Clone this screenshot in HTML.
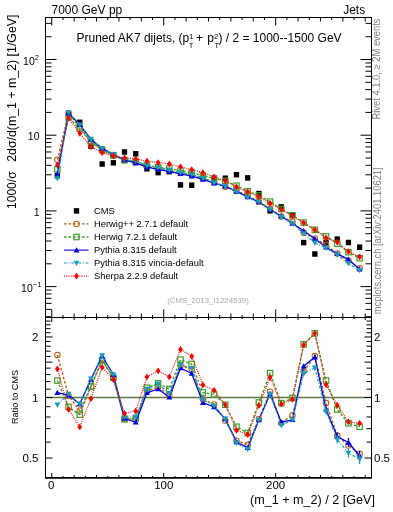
<!DOCTYPE html><html><head><meta charset="utf-8"><style>html,body{margin:0;padding:0;background:#fff;width:393px;height:512px;overflow:hidden}svg{display:block;font-family:"Liberation Sans",sans-serif;will-change:transform}</style></head><body><svg width="393" height="512" viewBox="0 0 393 512">
<rect width="393" height="512" fill="#fff"/>
<defs><clipPath id="cm"><rect x="45.5" y="17.5" width="326.0" height="300.0"/></clipPath><clipPath id="cr"><rect x="45.5" y="317.5" width="326.0" height="160.0"/></clipPath></defs>
<g clip-path="url(#cm)">
<rect x="54.72" y="172.95" width="5.3" height="5.5" fill="#000"/>
<rect x="65.91" y="111.05" width="5.3" height="5.5" fill="#000"/>
<rect x="77.11" y="119.55" width="5.3" height="5.5" fill="#000"/>
<rect x="88.3" y="143.45" width="5.3" height="5.5" fill="#000"/>
<rect x="99.5" y="161.25" width="5.3" height="5.5" fill="#000"/>
<rect x="110.69" y="160.05" width="5.3" height="5.5" fill="#000"/>
<rect x="121.89" y="149.25" width="5.3" height="5.5" fill="#000"/>
<rect x="133.08" y="151.05" width="5.3" height="5.5" fill="#000"/>
<rect x="144.28" y="166.05" width="5.3" height="5.5" fill="#000"/>
<rect x="155.47" y="169.85" width="5.3" height="5.5" fill="#000"/>
<rect x="166.67" y="168.95" width="5.3" height="5.5" fill="#000"/>
<rect x="177.86" y="182.15" width="5.3" height="5.5" fill="#000"/>
<rect x="189.06" y="182.45" width="5.3" height="5.5" fill="#000"/>
<rect x="200.25" y="174.75" width="5.3" height="5.5" fill="#000"/>
<rect x="211.45" y="176.85" width="5.3" height="5.5" fill="#000"/>
<rect x="222.64" y="175.45" width="5.3" height="5.5" fill="#000"/>
<rect x="233.84" y="171.95" width="5.3" height="5.5" fill="#000"/>
<rect x="245.03" y="175.15" width="5.3" height="5.5" fill="#000"/>
<rect x="256.23" y="190.85" width="5.3" height="5.5" fill="#000"/>
<rect x="267.42" y="208.05" width="5.3" height="5.5" fill="#000"/>
<rect x="278.62" y="204.15" width="5.3" height="5.5" fill="#000"/>
<rect x="289.81" y="212.35" width="5.3" height="5.5" fill="#000"/>
<rect x="301.01" y="239.85" width="5.3" height="5.5" fill="#000"/>
<rect x="312.2" y="251.25" width="5.3" height="5.5" fill="#000"/>
<rect x="323.4" y="240.05" width="5.3" height="5.5" fill="#000"/>
<rect x="334.59" y="236.35" width="5.3" height="5.5" fill="#000"/>
<rect x="345.79" y="239.75" width="5.3" height="5.5" fill="#000"/>
<rect x="356.98" y="244.45" width="5.3" height="5.5" fill="#000"/>
<polyline points="57.37,159.7 68.56,113.16 79.76,127.2 90.95,142.02 102.15,149.8 113.34,155.38 124.54,160.17 135.73,161.9 146.93,166.31 158.12,168.68 169.32,170.87 180.51,172.85 191.71,174.47 202.9,178.14 214.1,182.24 225.29,186.86 236.49,191 247.68,195.67 258.88,201.66 270.07,208.62 281.27,216.5 292.46,221.76 303.66,232.7 314.85,238.41 326.05,244.87 337.24,253.45 348.44,260.54 359.63,268.36" fill="none" stroke="#b8600f" stroke-width="1.4" stroke-dasharray="2.6,1.9" stroke-linejoin="round"/>
<circle cx="57.37" cy="159.7" r="2.75" fill="none" stroke="#b8600f" stroke-width="1.05"/>
<circle cx="68.56" cy="113.16" r="2.75" fill="none" stroke="#b8600f" stroke-width="1.05"/>
<circle cx="79.76" cy="127.2" r="2.75" fill="none" stroke="#b8600f" stroke-width="1.05"/>
<circle cx="90.95" cy="142.02" r="2.75" fill="none" stroke="#b8600f" stroke-width="1.05"/>
<circle cx="102.15" cy="149.8" r="2.75" fill="none" stroke="#b8600f" stroke-width="1.05"/>
<circle cx="113.34" cy="155.38" r="2.75" fill="none" stroke="#b8600f" stroke-width="1.05"/>
<circle cx="124.54" cy="160.17" r="2.75" fill="none" stroke="#b8600f" stroke-width="1.05"/>
<circle cx="135.73" cy="161.9" r="2.75" fill="none" stroke="#b8600f" stroke-width="1.05"/>
<circle cx="146.93" cy="166.31" r="2.75" fill="none" stroke="#b8600f" stroke-width="1.05"/>
<circle cx="158.12" cy="168.68" r="2.75" fill="none" stroke="#b8600f" stroke-width="1.05"/>
<circle cx="169.32" cy="170.87" r="2.75" fill="none" stroke="#b8600f" stroke-width="1.05"/>
<circle cx="180.51" cy="172.85" r="2.75" fill="none" stroke="#b8600f" stroke-width="1.05"/>
<circle cx="191.71" cy="174.47" r="2.75" fill="none" stroke="#b8600f" stroke-width="1.05"/>
<circle cx="202.9" cy="178.14" r="2.75" fill="none" stroke="#b8600f" stroke-width="1.05"/>
<circle cx="214.1" cy="182.24" r="2.75" fill="none" stroke="#b8600f" stroke-width="1.05"/>
<circle cx="225.29" cy="186.86" r="2.75" fill="none" stroke="#b8600f" stroke-width="1.05"/>
<circle cx="236.49" cy="191" r="2.75" fill="none" stroke="#b8600f" stroke-width="1.05"/>
<circle cx="247.68" cy="195.67" r="2.75" fill="none" stroke="#b8600f" stroke-width="1.05"/>
<circle cx="258.88" cy="201.66" r="2.75" fill="none" stroke="#b8600f" stroke-width="1.05"/>
<circle cx="270.07" cy="208.62" r="2.75" fill="none" stroke="#b8600f" stroke-width="1.05"/>
<circle cx="281.27" cy="216.5" r="2.75" fill="none" stroke="#b8600f" stroke-width="1.05"/>
<circle cx="292.46" cy="221.76" r="2.75" fill="none" stroke="#b8600f" stroke-width="1.05"/>
<circle cx="303.66" cy="232.7" r="2.75" fill="none" stroke="#b8600f" stroke-width="1.05"/>
<circle cx="314.85" cy="238.41" r="2.75" fill="none" stroke="#b8600f" stroke-width="1.05"/>
<circle cx="326.05" cy="244.87" r="2.75" fill="none" stroke="#b8600f" stroke-width="1.05"/>
<circle cx="337.24" cy="253.45" r="2.75" fill="none" stroke="#b8600f" stroke-width="1.05"/>
<circle cx="348.44" cy="260.54" r="2.75" fill="none" stroke="#b8600f" stroke-width="1.05"/>
<circle cx="359.63" cy="268.36" r="2.75" fill="none" stroke="#b8600f" stroke-width="1.05"/>
<polyline points="57.37,169.34 68.56,117.38 79.76,128.74 90.95,142.02 102.15,150.11 113.34,155.38 124.54,160.17 135.73,161.67 146.93,165.11 158.12,167.25 169.32,168.5 180.51,170.67 191.71,172.59 202.9,175.62 214.1,178.43 225.29,180.95 236.49,185.7 247.68,191.27 258.88,195.48 270.07,201.61 281.27,209.01 292.46,215.29 303.66,222.61 314.85,229.83 326.05,236.4 337.24,243.66 348.44,252.22 359.63,258.23" fill="none" stroke="#3fa02a" stroke-width="1.4" stroke-dasharray="2.6,1.9" stroke-linejoin="round"/>
<rect x="54.67" y="166.64" width="5.4" height="5.4" fill="none" stroke="#3fa02a" stroke-width="1.2"/>
<rect x="65.86" y="114.68" width="5.4" height="5.4" fill="none" stroke="#3fa02a" stroke-width="1.2"/>
<rect x="77.06" y="126.04" width="5.4" height="5.4" fill="none" stroke="#3fa02a" stroke-width="1.2"/>
<rect x="88.25" y="139.32" width="5.4" height="5.4" fill="none" stroke="#3fa02a" stroke-width="1.2"/>
<rect x="99.45" y="147.41" width="5.4" height="5.4" fill="none" stroke="#3fa02a" stroke-width="1.2"/>
<rect x="110.64" y="152.68" width="5.4" height="5.4" fill="none" stroke="#3fa02a" stroke-width="1.2"/>
<rect x="121.84" y="157.47" width="5.4" height="5.4" fill="none" stroke="#3fa02a" stroke-width="1.2"/>
<rect x="133.03" y="158.97" width="5.4" height="5.4" fill="none" stroke="#3fa02a" stroke-width="1.2"/>
<rect x="144.23" y="162.41" width="5.4" height="5.4" fill="none" stroke="#3fa02a" stroke-width="1.2"/>
<rect x="155.42" y="164.55" width="5.4" height="5.4" fill="none" stroke="#3fa02a" stroke-width="1.2"/>
<rect x="166.62" y="165.8" width="5.4" height="5.4" fill="none" stroke="#3fa02a" stroke-width="1.2"/>
<rect x="177.81" y="167.97" width="5.4" height="5.4" fill="none" stroke="#3fa02a" stroke-width="1.2"/>
<rect x="189.01" y="169.89" width="5.4" height="5.4" fill="none" stroke="#3fa02a" stroke-width="1.2"/>
<rect x="200.2" y="172.92" width="5.4" height="5.4" fill="none" stroke="#3fa02a" stroke-width="1.2"/>
<rect x="211.4" y="175.73" width="5.4" height="5.4" fill="none" stroke="#3fa02a" stroke-width="1.2"/>
<rect x="222.59" y="178.25" width="5.4" height="5.4" fill="none" stroke="#3fa02a" stroke-width="1.2"/>
<rect x="233.79" y="183" width="5.4" height="5.4" fill="none" stroke="#3fa02a" stroke-width="1.2"/>
<rect x="244.98" y="188.57" width="5.4" height="5.4" fill="none" stroke="#3fa02a" stroke-width="1.2"/>
<rect x="256.18" y="192.78" width="5.4" height="5.4" fill="none" stroke="#3fa02a" stroke-width="1.2"/>
<rect x="267.37" y="198.91" width="5.4" height="5.4" fill="none" stroke="#3fa02a" stroke-width="1.2"/>
<rect x="278.57" y="206.31" width="5.4" height="5.4" fill="none" stroke="#3fa02a" stroke-width="1.2"/>
<rect x="289.76" y="212.59" width="5.4" height="5.4" fill="none" stroke="#3fa02a" stroke-width="1.2"/>
<rect x="300.96" y="219.91" width="5.4" height="5.4" fill="none" stroke="#3fa02a" stroke-width="1.2"/>
<rect x="312.15" y="227.13" width="5.4" height="5.4" fill="none" stroke="#3fa02a" stroke-width="1.2"/>
<rect x="323.35" y="233.7" width="5.4" height="5.4" fill="none" stroke="#3fa02a" stroke-width="1.2"/>
<rect x="334.54" y="240.96" width="5.4" height="5.4" fill="none" stroke="#3fa02a" stroke-width="1.2"/>
<rect x="345.74" y="249.52" width="5.4" height="5.4" fill="none" stroke="#3fa02a" stroke-width="1.2"/>
<rect x="356.93" y="255.53" width="5.4" height="5.4" fill="none" stroke="#3fa02a" stroke-width="1.2"/>
<polyline points="57.37,173.89 68.56,112.93 79.76,124.75 90.95,139.42 102.15,148.37 113.34,154.21 124.54,159.91 135.73,163.14 146.93,167.03 158.12,169.4 169.32,171.62 180.51,173.79 191.71,176.16 202.9,179.42 214.1,183.18 225.29,186.26 236.49,191.46 247.68,196.84 258.88,202.07 270.07,209.52 281.27,216.2 292.46,223.5 303.66,230.81 314.85,238.79 326.05,247.32 337.24,253.82 348.44,259.44 359.63,269.23" fill="none" stroke="#0000e6" stroke-width="1.3" stroke-linejoin="round"/>
<path d="M54.37 176.19L60.37 176.19L57.37 170.99Z" fill="#0000e6"/>
<path d="M65.56 115.23L71.56 115.23L68.56 110.03Z" fill="#0000e6"/>
<path d="M76.76 127.05L82.76 127.05L79.76 121.85Z" fill="#0000e6"/>
<path d="M87.95 141.72L93.95 141.72L90.95 136.52Z" fill="#0000e6"/>
<path d="M99.15 150.67L105.15 150.67L102.15 145.47Z" fill="#0000e6"/>
<path d="M110.34 156.51L116.34 156.51L113.34 151.31Z" fill="#0000e6"/>
<path d="M121.54 162.21L127.54 162.21L124.54 157.01Z" fill="#0000e6"/>
<path d="M132.73 165.44L138.73 165.44L135.73 160.24Z" fill="#0000e6"/>
<path d="M143.93 169.33L149.93 169.33L146.93 164.13Z" fill="#0000e6"/>
<path d="M155.12 171.7L161.12 171.7L158.12 166.5Z" fill="#0000e6"/>
<path d="M166.32 173.92L172.32 173.92L169.32 168.72Z" fill="#0000e6"/>
<path d="M177.51 176.09L183.51 176.09L180.51 170.89Z" fill="#0000e6"/>
<path d="M188.71 178.46L194.71 178.46L191.71 173.26Z" fill="#0000e6"/>
<path d="M199.9 181.72L205.9 181.72L202.9 176.52Z" fill="#0000e6"/>
<path d="M211.1 185.48L217.1 185.48L214.1 180.28Z" fill="#0000e6"/>
<path d="M222.29 188.56L228.29 188.56L225.29 183.36Z" fill="#0000e6"/>
<path d="M233.49 193.76L239.49 193.76L236.49 188.56Z" fill="#0000e6"/>
<path d="M244.68 199.14L250.68 199.14L247.68 193.94Z" fill="#0000e6"/>
<path d="M255.88 204.37L261.88 204.37L258.88 199.17Z" fill="#0000e6"/>
<path d="M267.07 211.82L273.07 211.82L270.07 206.62Z" fill="#0000e6"/>
<path d="M278.27 218.5L284.27 218.5L281.27 213.3Z" fill="#0000e6"/>
<path d="M289.46 225.8L295.46 225.8L292.46 220.6Z" fill="#0000e6"/>
<path d="M300.66 233.11L306.66 233.11L303.66 227.91Z" fill="#0000e6"/>
<path d="M311.85 241.09L317.85 241.09L314.85 235.89Z" fill="#0000e6"/>
<path d="M323.05 249.62L329.05 249.62L326.05 244.42Z" fill="#0000e6"/>
<path d="M334.24 256.12L340.24 256.12L337.24 250.92Z" fill="#0000e6"/>
<path d="M345.44 261.74L351.44 261.74L348.44 256.54Z" fill="#0000e6"/>
<path d="M356.63 271.53L362.63 271.53L359.63 266.33Z" fill="#0000e6"/>
<polyline points="57.37,178.45 68.56,112.48 79.76,124.75 90.95,139.16 102.15,148.22 113.34,154.21 124.54,159.42 135.73,161.11 146.93,165.6 158.12,167.48 169.32,170.16 180.51,172.59 191.71,174.24 202.9,178.25 214.1,182.73 225.29,186.26 236.49,191.87 247.68,197.44 258.88,202.07 270.07,209.52 281.27,217.37 292.46,223.5 303.66,233.56 314.85,242.85 326.05,248.07 337.24,254.92 348.44,263.44 359.63,270.36" fill="none" stroke="#1a9cc0" stroke-width="1.2" stroke-dasharray="3,1.6,1,1.6" stroke-linejoin="round"/>
<path d="M54.37 176.15L60.37 176.15L57.37 181.35Z" fill="#1a9cc0"/>
<path d="M65.56 110.18L71.56 110.18L68.56 115.38Z" fill="#1a9cc0"/>
<path d="M76.76 122.45L82.76 122.45L79.76 127.65Z" fill="#1a9cc0"/>
<path d="M87.95 136.86L93.95 136.86L90.95 142.06Z" fill="#1a9cc0"/>
<path d="M99.15 145.92L105.15 145.92L102.15 151.12Z" fill="#1a9cc0"/>
<path d="M110.34 151.91L116.34 151.91L113.34 157.11Z" fill="#1a9cc0"/>
<path d="M121.54 157.12L127.54 157.12L124.54 162.32Z" fill="#1a9cc0"/>
<path d="M132.73 158.81L138.73 158.81L135.73 164.01Z" fill="#1a9cc0"/>
<path d="M143.93 163.3L149.93 163.3L146.93 168.5Z" fill="#1a9cc0"/>
<path d="M155.12 165.18L161.12 165.18L158.12 170.38Z" fill="#1a9cc0"/>
<path d="M166.32 167.86L172.32 167.86L169.32 173.06Z" fill="#1a9cc0"/>
<path d="M177.51 170.29L183.51 170.29L180.51 175.49Z" fill="#1a9cc0"/>
<path d="M188.71 171.94L194.71 171.94L191.71 177.14Z" fill="#1a9cc0"/>
<path d="M199.9 175.95L205.9 175.95L202.9 181.15Z" fill="#1a9cc0"/>
<path d="M211.1 180.43L217.1 180.43L214.1 185.63Z" fill="#1a9cc0"/>
<path d="M222.29 183.96L228.29 183.96L225.29 189.16Z" fill="#1a9cc0"/>
<path d="M233.49 189.57L239.49 189.57L236.49 194.77Z" fill="#1a9cc0"/>
<path d="M244.68 195.14L250.68 195.14L247.68 200.34Z" fill="#1a9cc0"/>
<path d="M255.88 199.77L261.88 199.77L258.88 204.97Z" fill="#1a9cc0"/>
<path d="M267.07 207.22L273.07 207.22L270.07 212.42Z" fill="#1a9cc0"/>
<path d="M278.27 215.07L284.27 215.07L281.27 220.27Z" fill="#1a9cc0"/>
<path d="M289.46 221.2L295.46 221.2L292.46 226.4Z" fill="#1a9cc0"/>
<path d="M300.66 231.26L306.66 231.26L303.66 236.46Z" fill="#1a9cc0"/>
<path d="M311.85 240.55L317.85 240.55L314.85 245.75Z" fill="#1a9cc0"/>
<path d="M323.05 245.77L329.05 245.77L326.05 250.97Z" fill="#1a9cc0"/>
<path d="M334.24 252.62L340.24 252.62L337.24 257.82Z" fill="#1a9cc0"/>
<path d="M345.44 261.14L351.44 261.14L348.44 266.34Z" fill="#1a9cc0"/>
<path d="M356.63 268.06L362.63 268.06L359.63 273.26Z" fill="#1a9cc0"/>
<polyline points="57.37,164.93 68.56,118.24 79.76,133.37 90.95,146.65 102.15,152.63 113.34,156.02 124.54,158.02 135.73,158.88 146.93,161.04 158.12,162.55 169.32,163.94 180.51,166.83 191.71,169.69 202.9,172.76 214.1,176.89 225.29,180.95 236.49,187.05 247.68,191.83 258.88,196.65 270.07,203.31 281.27,209.42 292.46,215.78 303.66,222.83 314.85,229.83 326.05,237.98 337.24,242 348.44,251.69 359.63,256.92" fill="none" stroke="#ff0000" stroke-width="1.2" stroke-dasharray="1,1.2" stroke-linejoin="round"/>
<path d="M57.37 161.53L59.77 164.93L57.37 168.33L54.97 164.93Z" fill="#ff0000"/>
<path d="M68.56 114.84L70.96 118.24L68.56 121.64L66.16 118.24Z" fill="#ff0000"/>
<path d="M79.76 129.97L82.16 133.37L79.76 136.77L77.36 133.37Z" fill="#ff0000"/>
<path d="M90.95 143.25L93.35 146.65L90.95 150.05L88.55 146.65Z" fill="#ff0000"/>
<path d="M102.15 149.23L104.55 152.63L102.15 156.03L99.75 152.63Z" fill="#ff0000"/>
<path d="M113.34 152.62L115.74 156.02L113.34 159.42L110.94 156.02Z" fill="#ff0000"/>
<path d="M124.54 154.62L126.94 158.02L124.54 161.42L122.14 158.02Z" fill="#ff0000"/>
<path d="M135.73 155.48L138.13 158.88L135.73 162.28L133.33 158.88Z" fill="#ff0000"/>
<path d="M146.93 157.64L149.33 161.04L146.93 164.44L144.53 161.04Z" fill="#ff0000"/>
<path d="M158.12 159.15L160.52 162.55L158.12 165.95L155.72 162.55Z" fill="#ff0000"/>
<path d="M169.32 160.54L171.72 163.94L169.32 167.34L166.92 163.94Z" fill="#ff0000"/>
<path d="M180.51 163.43L182.91 166.83L180.51 170.23L178.11 166.83Z" fill="#ff0000"/>
<path d="M191.71 166.29L194.11 169.69L191.71 173.09L189.31 169.69Z" fill="#ff0000"/>
<path d="M202.9 169.36L205.3 172.76L202.9 176.16L200.5 172.76Z" fill="#ff0000"/>
<path d="M214.1 173.49L216.5 176.89L214.1 180.29L211.7 176.89Z" fill="#ff0000"/>
<path d="M225.29 177.55L227.69 180.95L225.29 184.35L222.89 180.95Z" fill="#ff0000"/>
<path d="M236.49 183.65L238.89 187.05L236.49 190.45L234.09 187.05Z" fill="#ff0000"/>
<path d="M247.68 188.43L250.08 191.83L247.68 195.23L245.28 191.83Z" fill="#ff0000"/>
<path d="M258.88 193.25L261.28 196.65L258.88 200.05L256.48 196.65Z" fill="#ff0000"/>
<path d="M270.07 199.91L272.47 203.31L270.07 206.71L267.67 203.31Z" fill="#ff0000"/>
<path d="M281.27 206.02L283.67 209.42L281.27 212.82L278.87 209.42Z" fill="#ff0000"/>
<path d="M292.46 212.38L294.86 215.78L292.46 219.18L290.06 215.78Z" fill="#ff0000"/>
<path d="M303.66 219.43L306.06 222.83L303.66 226.23L301.26 222.83Z" fill="#ff0000"/>
<path d="M314.85 226.43L317.25 229.83L314.85 233.23L312.45 229.83Z" fill="#ff0000"/>
<path d="M326.05 234.58L328.45 237.98L326.05 241.38L323.65 237.98Z" fill="#ff0000"/>
<path d="M337.24 238.6L339.64 242L337.24 245.4L334.84 242Z" fill="#ff0000"/>
<path d="M348.44 248.29L350.84 251.69L348.44 255.09L346.04 251.69Z" fill="#ff0000"/>
<path d="M359.63 253.52L362.03 256.92L359.63 260.32L357.23 256.92Z" fill="#ff0000"/>
</g>
<g clip-path="url(#cr)">
<line x1="45.5" y1="397.5" x2="371.5" y2="397.5" stroke="#5a7846" stroke-width="1.3"/>
<polyline points="57.37,355 68.56,395.8 79.76,410.5 90.95,386.4 102.15,359.8 113.34,377.8 124.54,419.2 135.73,419 146.93,390.9 158.12,387.1 169.32,395.3 180.51,365.5 191.71,369 202.9,399.2 214.1,404.5 225.29,420.5 236.49,440.8 247.68,444.7 258.88,418.9 270.07,391.7 281.27,423 292.46,415.2 303.66,371.2 314.85,356.1 326.05,403 337.24,435.6 348.44,445.4 359.63,453.7" fill="none" stroke="#b8600f" stroke-width="1.4" stroke-dasharray="2.6,1.9" stroke-linejoin="round"/>
<circle cx="57.37" cy="355" r="2.75" fill="none" stroke="#b8600f" stroke-width="1.05"/>
<circle cx="68.56" cy="395.8" r="2.75" fill="none" stroke="#b8600f" stroke-width="1.05"/>
<circle cx="79.76" cy="410.5" r="2.75" fill="none" stroke="#b8600f" stroke-width="1.05"/>
<circle cx="90.95" cy="386.4" r="2.75" fill="none" stroke="#b8600f" stroke-width="1.05"/>
<circle cx="102.15" cy="359.8" r="2.75" fill="none" stroke="#b8600f" stroke-width="1.05"/>
<circle cx="113.34" cy="377.8" r="2.75" fill="none" stroke="#b8600f" stroke-width="1.05"/>
<circle cx="124.54" cy="419.2" r="2.75" fill="none" stroke="#b8600f" stroke-width="1.05"/>
<circle cx="135.73" cy="419" r="2.75" fill="none" stroke="#b8600f" stroke-width="1.05"/>
<circle cx="146.93" cy="390.9" r="2.75" fill="none" stroke="#b8600f" stroke-width="1.05"/>
<circle cx="158.12" cy="387.1" r="2.75" fill="none" stroke="#b8600f" stroke-width="1.05"/>
<circle cx="169.32" cy="395.3" r="2.75" fill="none" stroke="#b8600f" stroke-width="1.05"/>
<circle cx="180.51" cy="365.5" r="2.75" fill="none" stroke="#b8600f" stroke-width="1.05"/>
<circle cx="191.71" cy="369" r="2.75" fill="none" stroke="#b8600f" stroke-width="1.05"/>
<circle cx="202.9" cy="399.2" r="2.75" fill="none" stroke="#b8600f" stroke-width="1.05"/>
<circle cx="214.1" cy="404.5" r="2.75" fill="none" stroke="#b8600f" stroke-width="1.05"/>
<circle cx="225.29" cy="420.5" r="2.75" fill="none" stroke="#b8600f" stroke-width="1.05"/>
<circle cx="236.49" cy="440.8" r="2.75" fill="none" stroke="#b8600f" stroke-width="1.05"/>
<circle cx="247.68" cy="444.7" r="2.75" fill="none" stroke="#b8600f" stroke-width="1.05"/>
<circle cx="258.88" cy="418.9" r="2.75" fill="none" stroke="#b8600f" stroke-width="1.05"/>
<circle cx="270.07" cy="391.7" r="2.75" fill="none" stroke="#b8600f" stroke-width="1.05"/>
<circle cx="281.27" cy="423" r="2.75" fill="none" stroke="#b8600f" stroke-width="1.05"/>
<circle cx="292.46" cy="415.2" r="2.75" fill="none" stroke="#b8600f" stroke-width="1.05"/>
<circle cx="303.66" cy="371.2" r="2.75" fill="none" stroke="#b8600f" stroke-width="1.05"/>
<circle cx="314.85" cy="356.1" r="2.75" fill="none" stroke="#b8600f" stroke-width="1.05"/>
<circle cx="326.05" cy="403" r="2.75" fill="none" stroke="#b8600f" stroke-width="1.05"/>
<circle cx="337.24" cy="435.6" r="2.75" fill="none" stroke="#b8600f" stroke-width="1.05"/>
<circle cx="348.44" cy="445.4" r="2.75" fill="none" stroke="#b8600f" stroke-width="1.05"/>
<circle cx="359.63" cy="453.7" r="2.75" fill="none" stroke="#b8600f" stroke-width="1.05"/>
<polyline points="57.37,380.6 68.56,407 79.76,414.6 90.95,386.4 102.15,360.6 113.34,377.8 124.54,419.2 135.73,418.4 146.93,387.7 158.12,383.3 169.32,389 180.51,359.7 191.71,364 202.9,392.5 214.1,394.4 225.29,404.8 236.49,426.7 247.68,433 258.88,402.5 270.07,373.1 281.27,403.1 292.46,398 303.66,344.4 314.85,333.3 326.05,380.5 337.24,409.6 348.44,423.3 359.63,426.8" fill="none" stroke="#3fa02a" stroke-width="1.4" stroke-dasharray="2.6,1.9" stroke-linejoin="round"/>
<rect x="54.67" y="377.9" width="5.4" height="5.4" fill="none" stroke="#3fa02a" stroke-width="1.2"/>
<rect x="65.86" y="404.3" width="5.4" height="5.4" fill="none" stroke="#3fa02a" stroke-width="1.2"/>
<rect x="77.06" y="411.9" width="5.4" height="5.4" fill="none" stroke="#3fa02a" stroke-width="1.2"/>
<rect x="88.25" y="383.7" width="5.4" height="5.4" fill="none" stroke="#3fa02a" stroke-width="1.2"/>
<rect x="99.45" y="357.9" width="5.4" height="5.4" fill="none" stroke="#3fa02a" stroke-width="1.2"/>
<rect x="110.64" y="375.1" width="5.4" height="5.4" fill="none" stroke="#3fa02a" stroke-width="1.2"/>
<rect x="121.84" y="416.5" width="5.4" height="5.4" fill="none" stroke="#3fa02a" stroke-width="1.2"/>
<rect x="133.03" y="415.7" width="5.4" height="5.4" fill="none" stroke="#3fa02a" stroke-width="1.2"/>
<rect x="144.23" y="385" width="5.4" height="5.4" fill="none" stroke="#3fa02a" stroke-width="1.2"/>
<rect x="155.42" y="380.6" width="5.4" height="5.4" fill="none" stroke="#3fa02a" stroke-width="1.2"/>
<rect x="166.62" y="386.3" width="5.4" height="5.4" fill="none" stroke="#3fa02a" stroke-width="1.2"/>
<rect x="177.81" y="357" width="5.4" height="5.4" fill="none" stroke="#3fa02a" stroke-width="1.2"/>
<rect x="189.01" y="361.3" width="5.4" height="5.4" fill="none" stroke="#3fa02a" stroke-width="1.2"/>
<rect x="200.2" y="389.8" width="5.4" height="5.4" fill="none" stroke="#3fa02a" stroke-width="1.2"/>
<rect x="211.4" y="391.7" width="5.4" height="5.4" fill="none" stroke="#3fa02a" stroke-width="1.2"/>
<rect x="222.59" y="402.1" width="5.4" height="5.4" fill="none" stroke="#3fa02a" stroke-width="1.2"/>
<rect x="233.79" y="424" width="5.4" height="5.4" fill="none" stroke="#3fa02a" stroke-width="1.2"/>
<rect x="244.98" y="430.3" width="5.4" height="5.4" fill="none" stroke="#3fa02a" stroke-width="1.2"/>
<rect x="256.18" y="399.8" width="5.4" height="5.4" fill="none" stroke="#3fa02a" stroke-width="1.2"/>
<rect x="267.37" y="370.4" width="5.4" height="5.4" fill="none" stroke="#3fa02a" stroke-width="1.2"/>
<rect x="278.57" y="400.4" width="5.4" height="5.4" fill="none" stroke="#3fa02a" stroke-width="1.2"/>
<rect x="289.76" y="395.3" width="5.4" height="5.4" fill="none" stroke="#3fa02a" stroke-width="1.2"/>
<rect x="300.96" y="341.7" width="5.4" height="5.4" fill="none" stroke="#3fa02a" stroke-width="1.2"/>
<rect x="312.15" y="330.6" width="5.4" height="5.4" fill="none" stroke="#3fa02a" stroke-width="1.2"/>
<rect x="323.35" y="377.8" width="5.4" height="5.4" fill="none" stroke="#3fa02a" stroke-width="1.2"/>
<rect x="334.54" y="406.9" width="5.4" height="5.4" fill="none" stroke="#3fa02a" stroke-width="1.2"/>
<rect x="345.74" y="420.6" width="5.4" height="5.4" fill="none" stroke="#3fa02a" stroke-width="1.2"/>
<rect x="356.93" y="424.1" width="5.4" height="5.4" fill="none" stroke="#3fa02a" stroke-width="1.2"/>
<polyline points="57.37,392.7 68.56,395.2 79.76,404 90.95,379.5 102.15,356 113.34,374.7 124.54,418.5 135.73,422.3 146.93,392.8 158.12,389 169.32,397.3 180.51,368 191.71,373.5 202.9,402.6 214.1,407 225.29,418.9 236.49,442 247.68,447.8 258.88,420 270.07,394.1 281.27,422.2 292.46,419.8 303.66,366.2 314.85,357.1 326.05,409.5 337.24,436.6 348.44,442.5 359.63,456" fill="none" stroke="#0000e6" stroke-width="1.3" stroke-linejoin="round"/>
<path d="M54.37 395L60.37 395L57.37 389.8Z" fill="#0000e6"/>
<path d="M65.56 397.5L71.56 397.5L68.56 392.3Z" fill="#0000e6"/>
<path d="M76.76 406.3L82.76 406.3L79.76 401.1Z" fill="#0000e6"/>
<path d="M87.95 381.8L93.95 381.8L90.95 376.6Z" fill="#0000e6"/>
<path d="M99.15 358.3L105.15 358.3L102.15 353.1Z" fill="#0000e6"/>
<path d="M110.34 377L116.34 377L113.34 371.8Z" fill="#0000e6"/>
<path d="M121.54 420.8L127.54 420.8L124.54 415.6Z" fill="#0000e6"/>
<path d="M132.73 424.6L138.73 424.6L135.73 419.4Z" fill="#0000e6"/>
<path d="M143.93 395.1L149.93 395.1L146.93 389.9Z" fill="#0000e6"/>
<path d="M155.12 391.3L161.12 391.3L158.12 386.1Z" fill="#0000e6"/>
<path d="M166.32 399.6L172.32 399.6L169.32 394.4Z" fill="#0000e6"/>
<path d="M177.51 370.3L183.51 370.3L180.51 365.1Z" fill="#0000e6"/>
<path d="M188.71 375.8L194.71 375.8L191.71 370.6Z" fill="#0000e6"/>
<path d="M199.9 404.9L205.9 404.9L202.9 399.7Z" fill="#0000e6"/>
<path d="M211.1 409.3L217.1 409.3L214.1 404.1Z" fill="#0000e6"/>
<path d="M222.29 421.2L228.29 421.2L225.29 416Z" fill="#0000e6"/>
<path d="M233.49 444.3L239.49 444.3L236.49 439.1Z" fill="#0000e6"/>
<path d="M244.68 450.1L250.68 450.1L247.68 444.9Z" fill="#0000e6"/>
<path d="M255.88 422.3L261.88 422.3L258.88 417.1Z" fill="#0000e6"/>
<path d="M267.07 396.4L273.07 396.4L270.07 391.2Z" fill="#0000e6"/>
<path d="M278.27 424.5L284.27 424.5L281.27 419.3Z" fill="#0000e6"/>
<path d="M289.46 422.1L295.46 422.1L292.46 416.9Z" fill="#0000e6"/>
<line x1="303.66" y1="364.2" x2="303.66" y2="368.2" stroke="#0000e6" stroke-width="1.2"/>
<path d="M300.66 368.5L306.66 368.5L303.66 363.3Z" fill="#0000e6"/>
<line x1="314.85" y1="354.6" x2="314.85" y2="359.6" stroke="#0000e6" stroke-width="1.2"/>
<path d="M311.85 359.4L317.85 359.4L314.85 354.2Z" fill="#0000e6"/>
<line x1="326.05" y1="406.5" x2="326.05" y2="412.5" stroke="#0000e6" stroke-width="1.2"/>
<path d="M323.05 411.8L329.05 411.8L326.05 406.6Z" fill="#0000e6"/>
<line x1="337.24" y1="432.6" x2="337.24" y2="440.6" stroke="#0000e6" stroke-width="1.2"/>
<path d="M334.24 438.9L340.24 438.9L337.24 433.7Z" fill="#0000e6"/>
<line x1="348.44" y1="438" x2="348.44" y2="447" stroke="#0000e6" stroke-width="1.2"/>
<path d="M345.44 444.8L351.44 444.8L348.44 439.6Z" fill="#0000e6"/>
<line x1="359.63" y1="451" x2="359.63" y2="461" stroke="#0000e6" stroke-width="1.2"/>
<path d="M356.63 458.3L362.63 458.3L359.63 453.1Z" fill="#0000e6"/>
<polyline points="57.37,404.8 68.56,394 79.76,404 90.95,378.8 102.15,355.6 113.34,374.7 124.54,417.2 135.73,416.9 146.93,389 158.12,383.9 169.32,393.4 180.51,364.8 191.71,368.4 202.9,399.5 214.1,405.8 225.29,418.9 236.49,443.1 247.68,449.4 258.88,420 270.07,394.1 281.27,425.3 292.46,419.8 303.66,373.5 314.85,367.9 326.05,411.5 337.24,439.5 348.44,453.1 359.63,459" fill="none" stroke="#1a9cc0" stroke-width="1.2" stroke-dasharray="3,1.6,1,1.6" stroke-linejoin="round"/>
<path d="M54.37 402.5L60.37 402.5L57.37 407.7Z" fill="#1a9cc0"/>
<path d="M65.56 391.7L71.56 391.7L68.56 396.9Z" fill="#1a9cc0"/>
<path d="M76.76 401.7L82.76 401.7L79.76 406.9Z" fill="#1a9cc0"/>
<path d="M87.95 376.5L93.95 376.5L90.95 381.7Z" fill="#1a9cc0"/>
<path d="M99.15 353.3L105.15 353.3L102.15 358.5Z" fill="#1a9cc0"/>
<path d="M110.34 372.4L116.34 372.4L113.34 377.6Z" fill="#1a9cc0"/>
<path d="M121.54 414.9L127.54 414.9L124.54 420.1Z" fill="#1a9cc0"/>
<path d="M132.73 414.6L138.73 414.6L135.73 419.8Z" fill="#1a9cc0"/>
<path d="M143.93 386.7L149.93 386.7L146.93 391.9Z" fill="#1a9cc0"/>
<path d="M155.12 381.6L161.12 381.6L158.12 386.8Z" fill="#1a9cc0"/>
<path d="M166.32 391.1L172.32 391.1L169.32 396.3Z" fill="#1a9cc0"/>
<path d="M177.51 362.5L183.51 362.5L180.51 367.7Z" fill="#1a9cc0"/>
<path d="M188.71 366.1L194.71 366.1L191.71 371.3Z" fill="#1a9cc0"/>
<path d="M199.9 397.2L205.9 397.2L202.9 402.4Z" fill="#1a9cc0"/>
<path d="M211.1 403.5L217.1 403.5L214.1 408.7Z" fill="#1a9cc0"/>
<path d="M222.29 416.6L228.29 416.6L225.29 421.8Z" fill="#1a9cc0"/>
<path d="M233.49 440.8L239.49 440.8L236.49 446Z" fill="#1a9cc0"/>
<path d="M244.68 447.1L250.68 447.1L247.68 452.3Z" fill="#1a9cc0"/>
<path d="M255.88 417.7L261.88 417.7L258.88 422.9Z" fill="#1a9cc0"/>
<path d="M267.07 391.8L273.07 391.8L270.07 397Z" fill="#1a9cc0"/>
<path d="M278.27 423L284.27 423L281.27 428.2Z" fill="#1a9cc0"/>
<path d="M289.46 417.5L295.46 417.5L292.46 422.7Z" fill="#1a9cc0"/>
<line x1="303.66" y1="371.5" x2="303.66" y2="375.5" stroke="#1a9cc0" stroke-width="1.2"/>
<path d="M300.66 371.2L306.66 371.2L303.66 376.4Z" fill="#1a9cc0"/>
<line x1="314.85" y1="365.4" x2="314.85" y2="370.4" stroke="#1a9cc0" stroke-width="1.2"/>
<path d="M311.85 365.6L317.85 365.6L314.85 370.8Z" fill="#1a9cc0"/>
<line x1="326.05" y1="408.5" x2="326.05" y2="414.5" stroke="#1a9cc0" stroke-width="1.2"/>
<path d="M323.05 409.2L329.05 409.2L326.05 414.4Z" fill="#1a9cc0"/>
<line x1="337.24" y1="435.5" x2="337.24" y2="443.5" stroke="#1a9cc0" stroke-width="1.2"/>
<path d="M334.24 437.2L340.24 437.2L337.24 442.4Z" fill="#1a9cc0"/>
<line x1="348.44" y1="448.6" x2="348.44" y2="457.6" stroke="#1a9cc0" stroke-width="1.2"/>
<path d="M345.44 450.8L351.44 450.8L348.44 456Z" fill="#1a9cc0"/>
<line x1="359.63" y1="454" x2="359.63" y2="464" stroke="#1a9cc0" stroke-width="1.2"/>
<path d="M356.63 456.7L362.63 456.7L359.63 461.9Z" fill="#1a9cc0"/>
<polyline points="57.37,368.9 68.56,409.3 79.76,426.9 90.95,398.7 102.15,367.3 113.34,379.5 124.54,413.5 135.73,411 146.93,376.9 158.12,370.8 169.32,376.9 180.51,349.5 191.71,356.3 202.9,384.9 214.1,390.3 225.29,404.8 236.49,430.3 247.68,434.5 258.88,405.6 270.07,377.6 281.27,404.2 292.46,399.3 303.66,345 314.85,333.3 326.05,384.7 337.24,405.2 348.44,421.9 359.63,423.3" fill="none" stroke="#ff0000" stroke-width="1.2" stroke-dasharray="1,1.2" stroke-linejoin="round"/>
<path d="M57.37 365.5L59.77 368.9L57.37 372.3L54.97 368.9Z" fill="#ff0000"/>
<path d="M68.56 405.9L70.96 409.3L68.56 412.7L66.16 409.3Z" fill="#ff0000"/>
<path d="M79.76 423.5L82.16 426.9L79.76 430.3L77.36 426.9Z" fill="#ff0000"/>
<path d="M90.95 395.3L93.35 398.7L90.95 402.1L88.55 398.7Z" fill="#ff0000"/>
<path d="M102.15 363.9L104.55 367.3L102.15 370.7L99.75 367.3Z" fill="#ff0000"/>
<path d="M113.34 376.1L115.74 379.5L113.34 382.9L110.94 379.5Z" fill="#ff0000"/>
<path d="M124.54 410.1L126.94 413.5L124.54 416.9L122.14 413.5Z" fill="#ff0000"/>
<path d="M135.73 407.6L138.13 411L135.73 414.4L133.33 411Z" fill="#ff0000"/>
<path d="M146.93 373.5L149.33 376.9L146.93 380.3L144.53 376.9Z" fill="#ff0000"/>
<path d="M158.12 367.4L160.52 370.8L158.12 374.2L155.72 370.8Z" fill="#ff0000"/>
<path d="M169.32 373.5L171.72 376.9L169.32 380.3L166.92 376.9Z" fill="#ff0000"/>
<path d="M180.51 346.1L182.91 349.5L180.51 352.9L178.11 349.5Z" fill="#ff0000"/>
<path d="M191.71 352.9L194.11 356.3L191.71 359.7L189.31 356.3Z" fill="#ff0000"/>
<path d="M202.9 381.5L205.3 384.9L202.9 388.3L200.5 384.9Z" fill="#ff0000"/>
<path d="M214.1 386.9L216.5 390.3L214.1 393.7L211.7 390.3Z" fill="#ff0000"/>
<path d="M225.29 401.4L227.69 404.8L225.29 408.2L222.89 404.8Z" fill="#ff0000"/>
<path d="M236.49 426.9L238.89 430.3L236.49 433.7L234.09 430.3Z" fill="#ff0000"/>
<path d="M247.68 431.1L250.08 434.5L247.68 437.9L245.28 434.5Z" fill="#ff0000"/>
<path d="M258.88 402.2L261.28 405.6L258.88 409L256.48 405.6Z" fill="#ff0000"/>
<path d="M270.07 374.2L272.47 377.6L270.07 381L267.67 377.6Z" fill="#ff0000"/>
<path d="M281.27 400.8L283.67 404.2L281.27 407.6L278.87 404.2Z" fill="#ff0000"/>
<path d="M292.46 395.9L294.86 399.3L292.46 402.7L290.06 399.3Z" fill="#ff0000"/>
<path d="M303.66 341.6L306.06 345L303.66 348.4L301.26 345Z" fill="#ff0000"/>
<path d="M314.85 329.9L317.25 333.3L314.85 336.7L312.45 333.3Z" fill="#ff0000"/>
<path d="M326.05 381.3L328.45 384.7L326.05 388.1L323.65 384.7Z" fill="#ff0000"/>
<path d="M337.24 401.8L339.64 405.2L337.24 408.6L334.84 405.2Z" fill="#ff0000"/>
<path d="M348.44 418.5L350.84 421.9L348.44 425.3L346.04 421.9Z" fill="#ff0000"/>
<path d="M359.63 419.9L362.03 423.3L359.63 426.7L357.23 423.3Z" fill="#ff0000"/>
</g>
<path d="M45.5 316.72L51.5 316.72M371.5 316.72L365.5 316.72M45.5 309.39L51.5 309.39M371.5 309.39L365.5 309.39M45.5 303.39L51.5 303.39M371.5 303.39L365.5 303.39M45.5 298.33L51.5 298.33M371.5 298.33L365.5 298.33M45.5 293.94L51.5 293.94M371.5 293.94L365.5 293.94M45.5 290.06L51.5 290.06M371.5 290.06L365.5 290.06M45.5 286.6L56.5 286.6M371.5 286.6L360.5 286.6M45.5 263.81L51.5 263.81M371.5 263.81L365.5 263.81M45.5 250.48L51.5 250.48M371.5 250.48L365.5 250.48M45.5 241.02L51.5 241.02M371.5 241.02L365.5 241.02M45.5 233.69L51.5 233.69M371.5 233.69L365.5 233.69M45.5 227.69L51.5 227.69M371.5 227.69L365.5 227.69M45.5 222.63L51.5 222.63M371.5 222.63L365.5 222.63M45.5 218.24L51.5 218.24M371.5 218.24L365.5 218.24M45.5 214.36L51.5 214.36M371.5 214.36L365.5 214.36M45.5 210.9L56.5 210.9M371.5 210.9L360.5 210.9M45.5 188.11L51.5 188.11M371.5 188.11L365.5 188.11M45.5 174.78L51.5 174.78M371.5 174.78L365.5 174.78M45.5 165.32L51.5 165.32M371.5 165.32L365.5 165.32M45.5 157.99L51.5 157.99M371.5 157.99L365.5 157.99M45.5 151.99L51.5 151.99M371.5 151.99L365.5 151.99M45.5 146.93L51.5 146.93M371.5 146.93L365.5 146.93M45.5 142.54L51.5 142.54M371.5 142.54L365.5 142.54M45.5 138.66L51.5 138.66M371.5 138.66L365.5 138.66M45.5 135.2L56.5 135.2M371.5 135.2L360.5 135.2M45.5 112.41L51.5 112.41M371.5 112.41L365.5 112.41M45.5 99.08L51.5 99.08M371.5 99.08L365.5 99.08M45.5 89.62L51.5 89.62M371.5 89.62L365.5 89.62M45.5 82.29L51.5 82.29M371.5 82.29L365.5 82.29M45.5 76.29L51.5 76.29M371.5 76.29L365.5 76.29M45.5 71.23L51.5 71.23M371.5 71.23L365.5 71.23M45.5 66.84L51.5 66.84M371.5 66.84L365.5 66.84M45.5 62.96L51.5 62.96M371.5 62.96L365.5 62.96M45.5 59.5L56.5 59.5M371.5 59.5L360.5 59.5M45.5 36.71L51.5 36.71M371.5 36.71L365.5 36.71M45.5 23.38L51.5 23.38M371.5 23.38L365.5 23.38M51.77 17.5L51.77 25.5M51.77 317.5L51.77 309.5M51.77 317.5L51.77 322M51.77 477.5L51.77 473M62.96 17.5L62.96 20M62.96 317.5L62.96 315M62.96 317.5L62.96 319M62.96 477.5L62.96 476M74.16 17.5L74.16 21.5M74.16 317.5L74.16 313.5M74.16 317.5L74.16 320M74.16 477.5L74.16 475M85.35 17.5L85.35 20M85.35 317.5L85.35 315M85.35 317.5L85.35 319M85.35 477.5L85.35 476M96.55 17.5L96.55 21.5M96.55 317.5L96.55 313.5M96.55 317.5L96.55 320M96.55 477.5L96.55 475M107.74 17.5L107.74 20M107.74 317.5L107.74 315M107.74 317.5L107.74 319M107.74 477.5L107.74 476M118.94 17.5L118.94 21.5M118.94 317.5L118.94 313.5M118.94 317.5L118.94 320M118.94 477.5L118.94 475M130.13 17.5L130.13 20M130.13 317.5L130.13 315M130.13 317.5L130.13 319M130.13 477.5L130.13 476M141.33 17.5L141.33 21.5M141.33 317.5L141.33 313.5M141.33 317.5L141.33 320M141.33 477.5L141.33 475M152.52 17.5L152.52 20M152.52 317.5L152.52 315M152.52 317.5L152.52 319M152.52 477.5L152.52 476M163.72 17.5L163.72 25.5M163.72 317.5L163.72 309.5M163.72 317.5L163.72 322M163.72 477.5L163.72 473M174.91 17.5L174.91 20M174.91 317.5L174.91 315M174.91 317.5L174.91 319M174.91 477.5L174.91 476M186.11 17.5L186.11 21.5M186.11 317.5L186.11 313.5M186.11 317.5L186.11 320M186.11 477.5L186.11 475M197.3 17.5L197.3 20M197.3 317.5L197.3 315M197.3 317.5L197.3 319M197.3 477.5L197.3 476M208.5 17.5L208.5 21.5M208.5 317.5L208.5 313.5M208.5 317.5L208.5 320M208.5 477.5L208.5 475M219.7 17.5L219.7 20M219.7 317.5L219.7 315M219.7 317.5L219.7 319M219.7 477.5L219.7 476M230.89 17.5L230.89 21.5M230.89 317.5L230.89 313.5M230.89 317.5L230.89 320M230.89 477.5L230.89 475M242.09 17.5L242.09 20M242.09 317.5L242.09 315M242.09 317.5L242.09 319M242.09 477.5L242.09 476M253.28 17.5L253.28 21.5M253.28 317.5L253.28 313.5M253.28 317.5L253.28 320M253.28 477.5L253.28 475M264.48 17.5L264.48 20M264.48 317.5L264.48 315M264.48 317.5L264.48 319M264.48 477.5L264.48 476M275.67 17.5L275.67 25.5M275.67 317.5L275.67 309.5M275.67 317.5L275.67 322M275.67 477.5L275.67 473M286.87 17.5L286.87 20M286.87 317.5L286.87 315M286.87 317.5L286.87 319M286.87 477.5L286.87 476M298.06 17.5L298.06 21.5M298.06 317.5L298.06 313.5M298.06 317.5L298.06 320M298.06 477.5L298.06 475M309.26 17.5L309.26 20M309.26 317.5L309.26 315M309.26 317.5L309.26 319M309.26 477.5L309.26 476M320.45 17.5L320.45 21.5M320.45 317.5L320.45 313.5M320.45 317.5L320.45 320M320.45 477.5L320.45 475M331.65 17.5L331.65 20M331.65 317.5L331.65 315M331.65 317.5L331.65 319M331.65 477.5L331.65 476M342.84 17.5L342.84 21.5M342.84 317.5L342.84 313.5M342.84 317.5L342.84 320M342.84 477.5L342.84 475M354.04 17.5L354.04 20M354.04 317.5L354.04 315M354.04 317.5L354.04 319M354.04 477.5L354.04 476M365.23 17.5L365.23 21.5M365.23 317.5L365.23 313.5M365.23 317.5L365.23 320M365.23 477.5L365.23 475M45.5 477.5L50.5 477.5M371.5 477.5L366.5 477.5M45.5 458.02L52.5 458.02M371.5 458.02L364.5 458.02M45.5 442.1L50.5 442.1M371.5 442.1L366.5 442.1M45.5 428.64L50.5 428.64M371.5 428.64L366.5 428.64M45.5 416.98L50.5 416.98M371.5 416.98L366.5 416.98M45.5 406.7L50.5 406.7M371.5 406.7L366.5 406.7M45.5 397.5L52.5 397.5M371.5 397.5L364.5 397.5M45.5 389.18L50.5 389.18M371.5 389.18L366.5 389.18M45.5 381.58L50.5 381.58M371.5 381.58L366.5 381.58M45.5 374.59L50.5 374.59M371.5 374.59L366.5 374.59M45.5 368.12L50.5 368.12M371.5 368.12L366.5 368.12M45.5 362.1L52.5 362.1M371.5 362.1L364.5 362.1M45.5 356.46L50.5 356.46M371.5 356.46L366.5 356.46M45.5 351.17L50.5 351.17M371.5 351.17L366.5 351.17M45.5 346.18L50.5 346.18M371.5 346.18L366.5 346.18M45.5 341.46L50.5 341.46M371.5 341.46L366.5 341.46M45.5 336.98L52.5 336.98M371.5 336.98L364.5 336.98M45.5 332.72L50.5 332.72M371.5 332.72L366.5 332.72M45.5 328.66L50.5 328.66M371.5 328.66L366.5 328.66M45.5 324.78L50.5 324.78M371.5 324.78L366.5 324.78M45.5 321.06L50.5 321.06M371.5 321.06L366.5 321.06M45.5 317.5L50.5 317.5M371.5 317.5L366.5 317.5" stroke="#000" stroke-width="1" fill="none"/>
<rect x="45.5" y="17.5" width="326.0" height="300.0" fill="none" stroke="#000" stroke-width="1"/>
<rect x="45.5" y="317.5" width="326.0" height="160.0" fill="none" stroke="#000" stroke-width="1"/>
<line x1="45.0" y1="478.1" x2="372.0" y2="478.1" stroke="#000" stroke-width="1.2"/>
<rect x="73.85" y="208.15" width="5.3" height="5.5" fill="#000"/>
<line x1="64" y1="223.9" x2="88.5" y2="223.9" stroke="#b8600f" stroke-width="1.4" stroke-dasharray="2.6,1.9"/>
<circle cx="76.5" cy="223.9" r="2.75" fill="none" stroke="#b8600f" stroke-width="1.05"/>
<line x1="64" y1="237.0" x2="88.5" y2="237.0" stroke="#3fa02a" stroke-width="1.4" stroke-dasharray="2.6,1.9"/>
<rect x="73.8" y="234.3" width="5.4" height="5.4" fill="none" stroke="#3fa02a" stroke-width="1.2"/>
<line x1="64" y1="250.1" x2="88.5" y2="250.1" stroke="#0000e6" stroke-width="1.1"/>
<path d="M73.5 252.4L79.5 252.4L76.5 247.2Z" fill="#0000e6"/>
<line x1="64" y1="263.0" x2="88.5" y2="263.0" stroke="#1a9cc0" stroke-width="1.2" stroke-dasharray="3,1.6,1,1.6"/>
<path d="M73.5 260.7L79.5 260.7L76.5 265.9Z" fill="#1a9cc0"/>
<line x1="64" y1="276.1" x2="88.5" y2="276.1" stroke="#ff0000" stroke-width="1.2" stroke-dasharray="1,1.2"/>
<path d="M76.5 272.7L78.9 276.1L76.5 279.5L74.1 276.1Z" fill="#ff0000"/>
<g font-family="Liberation Sans, sans-serif"><text x="51.5" y="14" font-size="12" text-anchor="start" fill="#000">7000 GeV pp</text><text x="365.2" y="14" font-size="12" text-anchor="end" fill="#000">Jets</text><text x="76.5" y="41.8" font-size="12" text-anchor="start" fill="#000">Pruned AK7 dijets, (p</text><text x="189.6" y="39.3" font-size="7" text-anchor="start" fill="#000">1</text><text x="188.8" y="48.4" font-size="7.5" text-anchor="start" fill="#000">T</text><text x="196.1" y="41.8" font-size="12" text-anchor="start" fill="#000">+</text><text x="207.3" y="41.8" font-size="12" text-anchor="start" fill="#000">p</text><text x="214.2" y="39" font-size="7" text-anchor="start" fill="#000">2</text><text x="214.6" y="48.4" font-size="7.5" text-anchor="start" fill="#000">T</text><text x="218.5" y="41.8" font-size="12" text-anchor="start" fill="#000">) / 2 = 1000--1500 GeV</text><text x="34.8" y="65" font-size="10.5" text-anchor="end" fill="#000">10</text><text x="34.8" y="59.5" font-size="7.5" text-anchor="start" fill="#000">2</text><text x="39.5" y="140.2" font-size="10.5" text-anchor="end" fill="#000">10</text><text x="39.7" y="216.2" font-size="10.5" text-anchor="end" fill="#000">1</text><text x="32.8" y="292" font-size="10.5" text-anchor="end" fill="#000">10</text><text x="32.8" y="286.5" font-size="7.5" text-anchor="start" fill="#000">−1</text><text x="38.5" y="340.98" font-size="11.5" text-anchor="end" fill="#000">2</text><text x="374" y="340.98" font-size="11.5" text-anchor="start" fill="#000">2</text><text x="38.5" y="401.5" font-size="11.5" text-anchor="end" fill="#000">1</text><text x="374" y="401.5" font-size="11.5" text-anchor="start" fill="#000">1</text><text x="38.5" y="462.02" font-size="11.5" text-anchor="end" fill="#000">0.5</text><text x="374" y="462.02" font-size="11.5" text-anchor="start" fill="#000">0.5</text><text x="51.27" y="489" font-size="11.5" text-anchor="middle" fill="#000">0</text><text x="163.72" y="489" font-size="11.5" text-anchor="middle" fill="#000">100</text><text x="275.67" y="489" font-size="11.5" text-anchor="middle" fill="#000">200</text><text x="375" y="503.9" font-size="12.6" text-anchor="end" fill="#000">(m_1 + m_2) / 2 [GeV]</text><text transform="translate(16.4,208.9) rotate(-90)" font-size="12">1000/σ</text><text transform="translate(16.4,161.8) rotate(-90)" font-size="12.35">2dσ/d(m_1 + m_2) [1/GeV]</text><text transform="translate(18.0,424) rotate(-90)" font-size="9.1">Ratio to CMS</text><text transform="translate(379.8,119.5) rotate(-90)" font-size="10.1" textLength="101.0" lengthAdjust="spacingAndGlyphs" fill="#808080">Rivet 4.1.0, ≥ 2M events</text><text transform="translate(381,314.2) rotate(-90)" font-size="10.1" textLength="146.9" lengthAdjust="spacingAndGlyphs" fill="#808080">mcplots.cern.ch [arXiv:2401.10621]</text><text x="208" y="302.5" font-size="7.85" text-anchor="middle" fill="#aaaaaa">(CMS_2013_I1224539)</text><text x="94" y="213.7" font-size="9.9" text-anchor="start" fill="#000" textLength="20.76" lengthAdjust="spacingAndGlyphs">CMS</text><text x="94" y="226.7" font-size="9.9" text-anchor="start" fill="#000" textLength="94.02" lengthAdjust="spacingAndGlyphs">Herwig++ 2.7.1 default</text><text x="94" y="239.8" font-size="9.9" text-anchor="start" fill="#000" textLength="83.1" lengthAdjust="spacingAndGlyphs">Herwig 7.2.1 default</text><text x="94" y="252.9" font-size="9.9" text-anchor="start" fill="#000" textLength="82.6" lengthAdjust="spacingAndGlyphs">Pythia 8.315 default</text><text x="94" y="265.8" font-size="9.9" text-anchor="start" fill="#000" textLength="109.6" lengthAdjust="spacingAndGlyphs">Pythia 8.315 vincia-default</text><text x="94" y="278.9" font-size="9.9" text-anchor="start" fill="#000" textLength="84.16" lengthAdjust="spacingAndGlyphs">Sherpa 2.2.9 default</text></g>
</svg></body></html>
